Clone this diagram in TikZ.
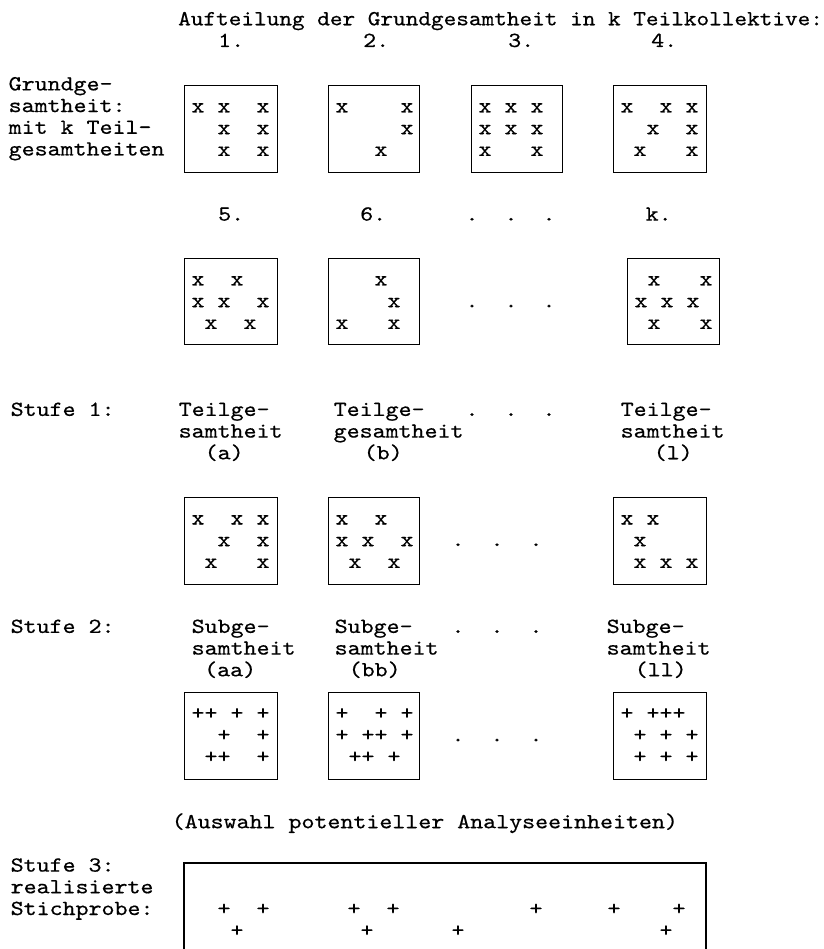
\documentclass[tikz,border=0pt]{standalone}
\usetikzlibrary{calc}
\font\dgfont="[lmmono10-regular]:extend=1.15;embolden=0.5" at 21.5pt
\font\dgtitle="[lmmono10-regular]:extend=1.12;embolden=0.5" at 21.5pt
\font\dgmark="[lmmono10-regular]:extend=1.15;embolden=0.5" at 21.5pt
\tikzset{
  txt/.style={anchor=base west, inner sep=0pt, font=\dgfont},
  mk/.style={anchor=base, inner sep=0pt, font=\dgmark},
  dotmk/.style={anchor=base, inner sep=0pt, font=\dgmark},
  boxst/.style={draw, line width=1.3pt, inner sep=0pt, anchor=north west, minimum height=87pt},
}
\newcommand\dgmarks[3]{%
  \foreach \c/\r in {#3}
    \node[mk] (#1-\c-\r) at ($(#1.north west)+({14+13*\c},{27.5+21.7*\r})$) {#2};}
\begin{document}
\begin{tikzpicture}[x=1pt,y=-1pt]
\useasboundingbox (0,0) rectangle (823,949);
% title and numbers
\node[txt, font=\dgtitle] (title) at (178,25.3) {Aufteilung der Grundgesamtheit in k Teilkollektive:};
\node[txt] (n1) at (218,47) {1.};
\node[txt] (n2) at (363,47) {2.};
\node[txt] (n3) at (508,47) {3.};
\node[txt] (n4) at (651,47) {4.};
% left label
\node[txt] (g1) at (8.5,90.4) {Grundge-};
\node[txt] (g2) at (8.5,112.1) {samtheit:};
\node[txt] (g3) at (8.5,133.8) {mit k Teil-};
\node[txt] (g4) at (8.5,155.5) {gesamtheiten};
% row 1 boxes
\node[boxst, minimum width=93pt] (B1) at (184,85) {};
\node[boxst, minimum width=91pt] (B2) at (328,85) {};
\node[boxst, minimum width=91pt] (B3) at (471,85) {};
\node[boxst, minimum width=93pt] (B4) at (613,85) {};
\dgmarks{B1}{x}{0/0,2/0,5/0,2/1,5/1,2/2,5/2}
\dgmarks{B2}{x}{0/0,5/0,5/1,3/2}
\dgmarks{B3}{x}{0/0,2/0,4/0,0/1,2/1,4/1,0/2,4/2}
\dgmarks{B4}{x}{0/0,3/0,5/0,2/1,5/1,1/2,5/2}
% row 2 header
\node[txt] (n5) at (218,220.6) {5.};
\node[txt] (n6) at (360,220.6) {6.};
\node[dotmk] (hd1) at (472,220.6) {.};
\node[dotmk] (hd2) at (511,220.6) {.};
\node[dotmk] (hd3) at (549,220.6) {.};
\node[txt] (nk) at (645.5,220.6) {k.};
% row 2 boxes
\node[boxst, minimum width=93pt, minimum height=86pt] (B5) at (184,258) {};
\node[boxst, minimum width=91pt, minimum height=86pt] (B6) at (328,258) {};
\node[boxst, minimum width=92pt, minimum height=86pt] (Bk) at (627,258) {};
\dgmarks{B5}{x}{0/0,3/0,0/1,2/1,5/1,1/2,4/2}
\dgmarks{B6}{x}{3/0,4/1,0/2,4/2}
\dgmarks{Bk}{x}{1/0,5/0,0/1,2/1,4/1,1/2,5/2}
\node[dotmk] (rd1) at (472,307.4) {.};
\node[dotmk] (rd2) at (511,307.4) {.};
\node[dotmk] (rd3) at (549,307.4) {.};
% Stufe 1
\node[txt] (s1) at (10.5,415.9) {Stufe 1:};
\node[txt] (ta1) at (178.5,415.9) {Teilge-};
\node[txt] (ta2) at (178.5,437.6) {samtheit};
\node[txt] (ta3) at (204.5,459.3) {(a)};
\node[txt] (tb1) at (333.5,415.9) {Teilge-};
\node[txt] (tb2) at (333.5,437.6) {gesamtheit};
\node[txt] (tb3) at (363.5,459.3) {(b)};
\node[dotmk] (sd1) at (472,415.9) {.};
\node[dotmk] (sd2) at (511,415.9) {.};
\node[dotmk] (sd3) at (549,415.9) {.};
\node[txt] (tl1) at (620.5,415.9) {Teilge-};
\node[txt] (tl2) at (620.5,437.6) {samtheit};
\node[txt] (tl3) at (653.5,459.3) {(l)};
% row 3 boxes
\node[boxst, minimum width=93pt] (Ba) at (184,497) {};
\node[boxst, minimum width=91pt] (Bb) at (328,497) {};
\node[boxst, minimum width=93pt] (Bl) at (613,497) {};
\dgmarks{Ba}{x}{0/0,3/0,5/0,2/1,5/1,1/2,5/2}
\dgmarks{Bb}{x}{0/0,3/0,0/1,2/1,5/1,1/2,4/2}
\dgmarks{Bl}{x}{0/0,2/0,1/1,1/2,3/2,5/2}
\node[dotmk] (ad1) at (458,546.1) {.};
\node[dotmk] (ad2) at (497,546.1) {.};
\node[dotmk] (ad3) at (536,546.1) {.};
% Stufe 2
\node[txt] (s2) at (10.5,632.9) {Stufe 2:};
\node[txt] (sa1) at (191.5,632.9) {Subge-};
\node[txt] (sa2) at (191.5,654.6) {samtheit};
\node[txt] (sa3) at (204,676.3) {(aa)};
\node[txt] (sb1) at (334.5,632.9) {Subge-};
\node[txt] (sb2) at (334.5,654.6) {samtheit};
\node[txt] (sb3) at (348.5,676.3) {(bb)};
\node[dotmk] (bd1) at (458,632.9) {.};
\node[dotmk] (bd2) at (497,632.9) {.};
\node[dotmk] (bd3) at (536,632.9) {.};
\node[txt] (sl1) at (606.5,632.9) {Subge-};
\node[txt] (sl2) at (606.5,654.6) {samtheit};
\node[txt] (sl3) at (634.5,676.3) {(ll)};
% row 4 boxes
\node[boxst, minimum width=93pt, minimum height=87pt] (Baa) at (184,692) {};
\node[boxst, minimum width=91pt, minimum height=87pt] (Bbb) at (328,692) {};
\node[boxst, minimum width=93pt, minimum height=87pt] (Bll) at (613,692) {};
\dgmarks{Baa}{+}{0/0,1/0,3/0,5/0,2/1,5/1,1/2,2/2,5/2}
\dgmarks{Bbb}{+}{0/0,3/0,5/0,0/1,2/1,3/1,5/1,1/2,2/2,4/2}
\dgmarks{Bll}{+}{0/0,2/0,3/0,4/0,1/1,3/1,5/1,1/2,3/2,5/2}
\node[dotmk] (cd1) at (458,741.4) {.};
\node[dotmk] (cd2) at (497,741.4) {.};
\node[dotmk] (cd3) at (536,741.4) {.};
% Auswahl
\node[txt] (ausw) at (171.5,828.2) {(Auswahl potentieller Analyseeinheiten)};
% Stufe 3
\node[txt] (s3a) at (10.5,871.6) {Stufe 3:};
\node[txt] (s3b) at (10.5,893.3) {realisierte};
\node[txt] (s3c) at (10.5,915) {Stichprobe:};
\coordinate (Bs) at (184,863);
\coordinate (BsR) at (706,863);
\coordinate (BsLb) at (184,949);
\coordinate (BsRb) at (706,949);
\draw[line width=1.3pt] (BsLb) -- (Bs) -- (BsR) -- (BsRb);
\foreach \c/\r in {2/0,5/0,12/0,15/0,26/0,32/0,37/0,3/1,13/1,20/1,36/1}
  \node[mk] (S-\c-\r) at ($(Bs)+({14+13*\c},{52+21.7*\r})$) {+};
\end{tikzpicture}
\end{document}
